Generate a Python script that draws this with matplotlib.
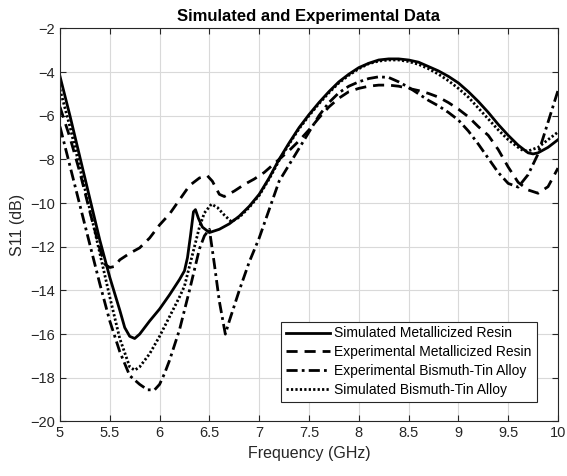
import matplotlib
matplotlib.use('Agg')
import matplotlib.pyplot as plt

plt.rcParams['font.family'] = ['Liberation Sans', 'DejaVu Sans']

# Simulated Metallicized Resin (solid)
f_sim_resin = [5.0, 5.1, 5.2, 5.3, 5.4, 5.5, 5.6, 5.65, 5.7, 5.75, 5.8, 5.9, 6.0, 6.1, 6.2, 6.25,
               6.28, 6.31, 6.34, 6.36, 6.39, 6.43, 6.5, 6.6, 6.7, 6.8, 6.9, 7.0, 7.1, 7.2,
               7.3, 7.4, 7.5, 7.6, 7.7, 7.8, 7.9, 8.0, 8.1, 8.2, 8.3, 8.4, 8.5, 8.6, 8.7,
               8.8, 8.9, 9.0, 9.1, 9.2, 9.3, 9.4, 9.5, 9.6, 9.7, 9.75, 9.8, 9.9, 10.0]
s_sim_resin = [-4.2, -6.0, -7.9, -9.8, -11.7, -13.4, -14.9, -15.7, -16.1, -16.2, -16.0, -15.4, -14.85,
               -14.2, -13.5, -13.1, -12.5, -11.5, -10.4, -10.3, -10.7, -11.1, -11.35, -11.2,
               -10.95, -10.6, -10.15, -9.6, -8.85, -8.0, -7.25, -6.55, -5.95, -5.4, -4.9,
               -4.45, -4.1, -3.8, -3.6, -3.45, -3.4, -3.4, -3.45, -3.55, -3.75, -3.95, -4.2,
               -4.5, -4.9, -5.35, -5.85, -6.4, -6.9, -7.35, -7.7, -7.75, -7.7, -7.45, -7.1]

# Experimental Metallicized Resin (dashed)
f_exp_resin = [5.0, 5.1, 5.2, 5.3, 5.4, 5.45, 5.5, 5.55, 5.6, 5.7, 5.8, 5.9, 6.0, 6.1, 6.2,
               6.3, 6.4, 6.48, 6.53, 6.6, 6.65, 6.75, 6.85, 6.95, 7.05, 7.2, 7.3, 7.4, 7.5,
               7.6, 7.7, 7.8, 7.9, 8.0, 8.1, 8.2, 8.3, 8.4, 8.5, 8.6, 8.7, 8.8, 8.9, 9.0,
               9.1, 9.2, 9.3, 9.4, 9.5, 9.6, 9.7, 9.8, 9.9, 10.0]
s_exp_resin = [-5.6, -7.0, -8.6, -10.4, -12.1, -12.8, -12.95, -12.9, -12.6, -12.3, -12.05,
               -11.6, -11.0, -10.5, -9.85, -9.2, -8.85, -8.75, -9.0, -9.6, -9.7, -9.45,
               -9.15, -8.9, -8.6, -8.0, -7.6, -7.15, -6.65, -6.1, -5.6, -5.2, -4.9, -4.75,
               -4.65, -4.6, -4.6, -4.65, -4.75, -4.85, -4.98, -5.15, -5.4, -5.7, -6.05,
               -6.5, -6.9, -7.55, -8.35, -9.05, -9.4, -9.55, -9.25, -8.4]

# Experimental Bismuth-Tin Alloy (dash-dot)
f_exp_bisn = [5.0, 5.1, 5.2, 5.3, 5.4, 5.5, 5.6, 5.7, 5.8, 5.88, 5.95, 6.0, 6.05, 6.1, 6.2,
              6.3, 6.4, 6.45, 6.5, 6.55, 6.6, 6.66, 6.7, 6.8, 6.9, 7.0, 7.1, 7.2, 7.3, 7.4,
              7.5, 7.6, 7.7, 7.8, 7.9, 8.0, 8.1, 8.2, 8.3, 8.4, 8.5, 8.6, 8.7, 8.8, 8.9,
              9.0, 9.1, 9.2, 9.3, 9.4, 9.5, 9.6, 9.7, 9.8, 9.9, 10.0]
s_exp_bisn = [-6.5, -8.3, -10.1, -11.9, -13.7, -15.4, -16.8, -17.9, -18.3, -18.55, -18.55,
              -18.3, -17.8, -17.2, -15.8, -14.0, -12.1, -11.5, -11.2, -12.8, -14.5, -16.0,
              -15.4, -14.0, -12.7, -11.6, -10.3, -9.0, -8.25, -7.5, -6.75, -6.0, -5.4,
              -4.95, -4.65, -4.45, -4.3, -4.22, -4.25, -4.45, -4.7, -5.0, -5.3, -5.55,
              -5.85, -6.2, -6.7, -7.3, -7.95, -8.6, -9.1, -9.27, -8.7, -7.75, -6.3, -4.85]

# Simulated Bismuth-Tin Alloy (dotted)
f_sim_bisn = [5.0, 5.1, 5.2, 5.3, 5.4, 5.5, 5.6, 5.7, 5.75, 5.8, 5.9, 6.0, 6.1, 6.2, 6.25,
              6.3, 6.35, 6.4, 6.45, 6.52, 6.58, 6.65, 6.72, 6.8, 6.9, 7.0, 7.1, 7.2, 7.3,
              7.4, 7.5, 7.6, 7.7, 7.8, 7.9, 8.0, 8.1, 8.2, 8.3, 8.4, 8.5, 8.6, 8.7, 8.8,
              8.9, 9.0, 9.1, 9.2, 9.3, 9.4, 9.5, 9.6, 9.65, 9.7, 9.8, 9.9, 10.0]
s_sim_bisn = [-4.8, -6.5, -8.4, -10.3, -12.3, -14.3, -16.2, -17.5, -17.65, -17.5, -16.9,
              -16.1, -15.2, -14.3, -13.8, -12.9, -12.0, -11.1, -10.45, -10.05, -10.2,
              -10.55, -10.85, -10.65, -10.2, -9.65, -8.9, -8.05, -7.3, -6.6, -6.0, -5.45,
              -4.95, -4.5, -4.15, -3.85, -3.62, -3.5, -3.45, -3.45, -3.52, -3.65, -3.85,
              -4.1, -4.4, -4.75, -5.15, -5.65, -6.15, -6.65, -7.1, -7.45, -7.6, -7.62,
              -7.45, -7.1, -6.75]

xticks = [5, 5.5, 6, 6.5, 7, 7.5, 8, 8.5, 9, 9.5, 10]
yticks = [-20, -18, -16, -14, -12, -10, -8, -6, -4, -2]

fig = plt.figure(figsize=(5.67, 4.76), dpi=100)
ax = fig.add_axes([0.1058, 0.1145, 0.8783, 0.826])

ax.plot(f_sim_resin, s_sim_resin, '-', color='k', lw=2.0, label='Simulated Metallicized Resin')
ax.plot(f_exp_resin, s_exp_resin, '--', color='k', lw=2.0, dashes=(4, 2.5),
        label='Experimental Metallicized Resin')
ax.plot(f_exp_bisn, s_exp_bisn, '-.', color='k', lw=2.0, dashes=(4, 1.5, 1, 1.5),
        label='Experimental Bismuth-Tin Alloy')
ax.plot(f_sim_bisn, s_sim_bisn, ':', color='k', lw=2.0, dashes=(0.8, 0.8),
        label='Simulated Bismuth-Tin Alloy')

ax.set_xlim(5, 10)
ax.set_ylim(-20, -2)
ax.set_xticks(xticks)
ax.set_xticklabels([('%g' % t) for t in xticks])
ax.set_yticks(yticks)
ax.grid(True, color='#d9d9d9', lw=0.8)
ax.set_axisbelow(True)
ax.tick_params(direction='in', top=True, right=True, labelsize=10.5, colors='#262626',
               length=4, width=0.8)
for sp in ax.spines.values():
    sp.set_color('#262626')
    sp.set_linewidth(0.8)

ax.set_title('Simulated and Experimental Data', fontsize=12, fontweight='bold', pad=5)
ax.set_xlabel('Frequency (GHz)', fontsize=11.5, color='#262626')
ax.set_ylabel('S11 (dB)', fontsize=11.5, color='#262626')

leg = ax.legend(loc='lower right', bbox_to_anchor=(0.957, 0.05), borderaxespad=0,
                fontsize=10, handlelength=3.2, handletextpad=0.3, labelspacing=0.35,
                fancybox=False, framealpha=1, edgecolor='#262626', borderpad=0.35)
leg.get_frame().set_linewidth(0.8)

fig.savefig('out.png', dpi=100)
